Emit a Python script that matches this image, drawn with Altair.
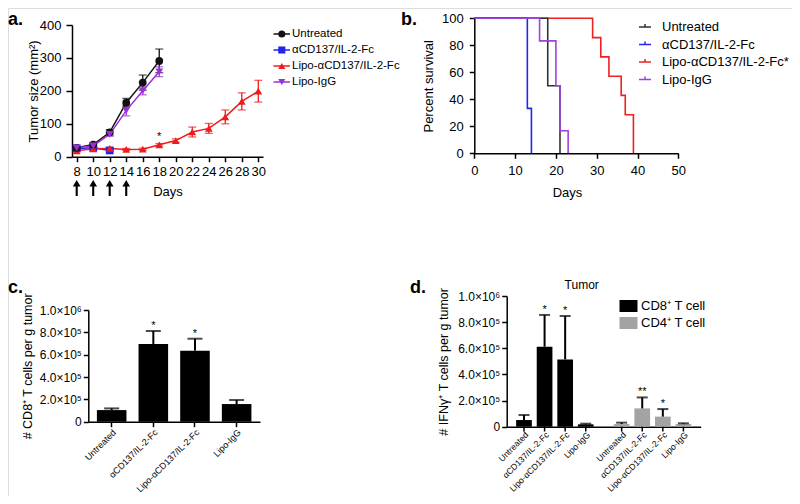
import altair as alt
import pandas as pd

FONT = "Liberation Sans"
W, H = 784, 488

# ---------------- panel a : tumour growth ----------------
days_a = [8, 10, 12, 14, 16, 18, 20, 22, 24, 26, 28, 30]
series_a = ["Untreated", "αCD137/IL-2-Fc", "Lipo-αCD137/IL-2-Fc", "Lipo-IgG"]
untreated_a = [27, 37, 74, 164, 225, 291]
untreated_err_a = [3, 5, 8, 13, 23, 36]
acd_a = [25, 27, 19]
acd_err_a = [3, 3, 3]
lipo_a = [18, 24, 25, 22, 23, 36, 49, 75, 86, 121, 168, 199]
lipo_err_a = [3, 3, 3, 3, 3, 4, 5, 15, 15, 21, 26, 33]
igg_a = [27, 33, 68, 140, 200, 258]
igg_err_a = [3, 5, 6, 16, 12, 15]
dose_days_a = [8, 10, 12, 14]
star_day_a = [18]
star_val_a = [60]
colors_a = ["#111111", "#2222EE", "#EE1C1C", "#9B30D8"]
shapes_a = ["circle", "square", "triangle-up", "triangle-down"]
arrow_path = "M-0.13,1L0.13,1L0.13,-0.2L0.48,-0.2L0,-1L-0.48,-0.2L-0.13,-0.2Z"

# ---------------- panel b : survival ----------------
series_b = ["Untreated", "αCD137/IL-2-Fc", "Lipo-αCD137/IL-2-Fc*", "Lipo-IgG"]
untreated_b_days = [0, 18, 21]
untreated_b_pct = [100, 50, 0]
acd_b_days = [0, 13, 14]
acd_b_pct = [100, 33.3, 0]
lipo_b_days = [0, 29, 31, 33, 36, 37, 39]
lipo_b_pct = [100, 85.7, 71.4, 57.1, 42.9, 28.6, 0]
igg_b_days = [0, 16, 20, 21, 23]
igg_b_pct = [100, 83.3, 50, 16.7, 0]
colors_b = ["#333333", "#2525F0", "#F02020", "#A040E0"]

# ---------------- panel c : CD8 T cells ----------------
treat = ["Untreated", "αCD137/IL-2-Fc", "Lipo-αCD137/IL-2-Fc", "Lipo-IgG"]
cd8_c = [1.04e5, 6.96e5, 6.36e5, 1.58e5]
cd8_err_c = [0.15e5, 1.16e5, 1.07e5, 0.36e5]
stars_c = ["", "*", "*", ""]

# ---------------- panel d : IFNγ+ T cells ----------------
cells_d = ["CD8⁺ T cell", "CD4⁺ T cell"]
cd8_d = [0.51e5, 6.12e5, 5.15e5, 0.18e5]
cd8_err_d = [0.38e5, 2.43e5, 3.32e5, 0.05e5]
cd4_d = [0.20e5, 1.40e5, 0.77e5, 0.20e5]
cd4_err_d = [0.11e5, 0.84e5, 0.58e5, 0.06e5]
stars_d8 = ["", "*", "*", ""]
stars_d4 = ["", "**", "*", ""]
colors_d = ["#000000", "#A3A3A3"]

sci_ticks = [0, 2e5, 4e5, 6e5, 8e5, 1e6]
sci_expr = ("datum.value == 0 ? '0' : (datum.value >= 999999 ? "
            "format(datum.value / 1000000, '.1f') + '×10⁶' : "
            "format(datum.value / 100000, '.1f') + '×10⁵')")


def ax(**kw):
    base = dict(grid=False, domainColor="black", tickColor="black", labelColor="black",
                titleColor="black", domainWidth=1.5, tickWidth=1.5, labelFont=FONT,
                titleFont=FONT, titleFontWeight="normal", labelFlush=False, labelOverlap=False)
    base.update(kw)
    return alt.Axis(**base)


# ======== panel a ========
rows_a = []
for name, vals, errs in [(series_a[1], acd_a, acd_err_a), (series_a[2], lipo_a, lipo_err_a),
                         (series_a[0], untreated_a, untreated_err_a), (series_a[3], igg_a, igg_err_a)]:
    for d, v, e in zip(days_a, vals, errs):
        rows_a.append({"series": name, "day": d, "v": v, "lo": v - e, "hi": v + e})
df_a = pd.DataFrame(rows_a)

xa = alt.Scale(domain=[7.43, 30.57], range=[64, 255], nice=False, zero=False)
ya = alt.Scale(domain=[0, 400], range=[148.7, 17], nice=False)
axis_xa = ax(orient="bottom", offset=148.7 - H, values=days_a, title="Days", tickSize=5,
             labelPadding=4, labelFontSize=13, titleFontSize=13, titlePadding=7)
axis_ya = ax(orient="left", offset=-64, values=[0, 100, 200, 300, 400], title="Tumor size (mm²)",
             tickSize=6, labelPadding=5, labelFontSize=13, titleFontSize=13, titlePadding=-1)
XA = alt.X("day:Q", scale=xa, axis=axis_xa)


def YA(f):
    return alt.Y(f + ":Q", scale=ya, axis=axis_ya)


col_scale_a = alt.Scale(domain=series_a, range=colors_a)
COLA = alt.Color("series:N", scale=col_scale_a, legend=None)

a_layers = [
    alt.Chart(df_a).mark_rule(strokeWidth=1.3).encode(x=XA, y=YA("lo"), y2="hi", color=COLA),
    alt.Chart(df_a).mark_tick(orient="horizontal", size=8, thickness=1.3).encode(x=XA, y=YA("hi"), color=COLA),
    alt.Chart(df_a).mark_tick(orient="horizontal", size=8, thickness=1.3).encode(x=XA, y=YA("lo"), color=COLA),
    alt.Chart(df_a).mark_line(strokeWidth=1.5).encode(x=XA, y=YA("v"), color=COLA),
]
for idx in [1, 2, 0, 3]:
    a_layers.append(
        alt.Chart(df_a).transform_filter(alt.datum.series == series_a[idx])
        .mark_point(shape=shapes_a[idx], filled=True, size=60, opacity=1)
        .encode(x=XA, y=YA("v"), color=COLA))
a_layers.append(
    alt.Chart(pd.DataFrame({"day": dose_days_a})).mark_point(shape=arrow_path, filled=True, size=256,
                                                            color="black", opacity=1)
    .encode(x=XA, y=alt.value(180)))
a_layers.append(
    alt.Chart(pd.DataFrame({"day": star_day_a, "v": star_val_a})).mark_text(
        text="*", fontSize=11, font=FONT, color="black").encode(x=XA, y=YA("v")))
panel_a = alt.layer(*a_layers)

# legend of panel a (line + marker entries)
df_leg_a = pd.DataFrame({"series": series_a})
YL = alt.Y("series:N", scale=alt.Scale(type="point", domain=series_a, range=[26, 74], padding=0), axis=None)
COLL = alt.Color("series:N", scale=alt.Scale(domain=series_a, range=colors_a), legend=None)
legend_a = alt.layer(
    alt.Chart(df_leg_a).mark_rule(strokeWidth=1.5).encode(
        x=alt.value(265.5), x2=alt.value(282), y=YL, color=COLL),
    alt.Chart(df_leg_a).mark_point(filled=True, size=50, opacity=1).encode(
        x=alt.value(273.8), y=YL, color=COLL,
        shape=alt.Shape("series:N", scale=alt.Scale(domain=series_a, range=shapes_a), legend=None)),
    alt.Chart(df_leg_a).mark_text(align="left", baseline="middle", fontSize=11.5, font=FONT,
                                  color="black").encode(x=alt.value(284), y=YL, text="series:N"),
)

# ======== panel b ========
rows_b = []
for name, ds, ps in [(series_b[2], lipo_b_days, lipo_b_pct), (series_b[1], acd_b_days, acd_b_pct),
                     (series_b[0], untreated_b_days, untreated_b_pct), (series_b[3], igg_b_days, igg_b_pct)]:
    for d, p in zip(ds, ps):
        rows_b.append({"series": name, "day": d, "pct": p})
df_b = pd.DataFrame(rows_b)

xb = alt.Scale(domain=[0, 50], range=[466.3, 670.3], nice=False)
yb = alt.Scale(domain=[0, 100], range=[145.3, 10.3], nice=False)
axis_xb = ax(orient="bottom", offset=145.3 - H, values=[0, 10, 20, 30, 40, 50], title="Days",
             tickSize=5, labelPadding=6, labelFontSize=13, titleFontSize=13, titlePadding=9,
             titleX=559)
axis_yb = ax(orient="left", offset=-466.3, values=[0, 20, 40, 60, 80, 100], title="Percent survival",
             tickSize=5, labelPadding=6, labelFontSize=13, titleFontSize=13, titlePadding=6.5)
leg_b = alt.Legend(orient="none", legendX=630, legendY=12, title=None, symbolType="M-1,0H1M0,0V-0.5",
                   symbolSize=144, symbolStrokeWidth=1.5, symbolFillColor="transparent",
                   labelFontSize=13, labelOffset=10, rowPadding=3.5, labelFont=FONT,
                   labelColor="black", padding=0)
panel_b = alt.Chart(df_b).mark_line(interpolate="step-after", strokeWidth=1.6).encode(
    x=alt.X("day:Q", scale=xb, axis=axis_xb),
    y=alt.Y("pct:Q", scale=yb, axis=axis_yb),
    color=alt.Color("series:N", scale=alt.Scale(domain=series_b, range=colors_b), legend=leg_b),
)

# ======== panel c ========
df_c = pd.DataFrame({"treat": treat, "v": cd8_c,
                     "hi": [v + e for v, e in zip(cd8_c, cd8_err_c)], "star": stars_c})
xc = alt.Scale(domain=treat, range=[80.3, 252], paddingInner=0.29, paddingOuter=0.206)
yc = alt.Scale(domain=[0, 1e6], range=[413.7, 302], nice=False)
axis_xc = ax(orient="bottom", offset=413.7 - H, title=None, labelAngle=315, labelFontSize=9,
             tickSize=5, labelPadding=1)
axis_yc = ax(orient="left", offset=-80.3, values=sci_ticks, labelExpr=sci_expr,
             title="# CD8⁺ T cells per g tumor", labelFontSize=12, titleFontSize=12.5,
             tickSize=5, labelPadding=2, titlePadding=5)
XC = alt.X("treat:N", scale=xc, axis=axis_xc)


def YC(f):
    return alt.Y(f + ":Q", scale=yc, axis=axis_yc)


panel_c = alt.layer(
    alt.Chart(df_c).mark_bar(color="black").encode(x=XC, y=YC("v")),
    alt.Chart(df_c).mark_rule(color="black", strokeWidth=2).encode(x=XC, y=YC("v"), y2="hi"),
    alt.Chart(df_c).mark_tick(orient="horizontal", size=15, thickness=2, color="black").encode(x=XC, y=YC("hi")),
    alt.Chart(df_c).transform_filter("datum.star != ''").mark_text(
        baseline="bottom", fontSize=11, font=FONT, color="black").encode(x=XC, y=YC("hi"), text="star:N"),
)

# ======== panel d ========
rows_d = []
for cell, vals, errs, stars in [(cells_d[0], cd8_d, cd8_err_d, stars_d8), (cells_d[1], cd4_d, cd4_err_d, stars_d4)]:
    for t, v, e, s in zip(treat, vals, errs, stars):
        rows_d.append({"cell": cell, "treat": t, "v": v, "hi": v + e, "star": s})
df_d = pd.DataFrame(rows_d)

xd = alt.Scale(domain=cells_d, range=[498.7, 692.7], paddingInner=0.207, paddingOuter=0.0967)
xod = alt.Scale(domain=treat, paddingInner=0.238, paddingOuter=0)
yd = alt.Scale(domain=[0, 1e6], range=[418.7, 288], nice=False)
axis_xd = ax(orient="bottom", offset=418.7 - H, title=None, labels=False, ticks=False)
axis_yd = ax(orient="left", offset=-498.7, values=sci_ticks, labelExpr=sci_expr,
             title="# IFNγ⁺ T cells per g tumor", labelFontSize=12, titleFontSize=12.5,
             tickSize=5, labelPadding=2, titlePadding=7)
XD = alt.X("cell:N", scale=xd, axis=axis_xd)
XOD = alt.XOffset("treat:N", scale=xod)


def YD(f):
    return alt.Y(f + ":Q", scale=yd, axis=axis_yd)


leg_d = alt.Legend(orient="none", legendX=614, legendY=291.5, title=None,
                   symbolType="M-1.5,-1H1.5V1H-1.5Z", symbolSize=144, symbolStrokeWidth=0,
                   labelFontSize=13, labelOffset=6, rowPadding=3, labelFont=FONT,
                   labelColor="black", padding=0)
panel_d = alt.layer(
    alt.Chart(df_d).mark_bar().encode(
        x=XD, xOffset=XOD, y=YD("v"),
        color=alt.Color("cell:N", scale=alt.Scale(domain=cells_d, range=colors_d), legend=leg_d)),
    alt.Chart(df_d).mark_rule(color="black", strokeWidth=2).encode(x=XD, xOffset=XOD, y=YD("v"), y2="hi"),
    alt.Chart(df_d).mark_tick(orient="horizontal", size=11, thickness=2, color="black").encode(
        x=XD, xOffset=XOD, y=YD("hi")),
    alt.Chart(df_d).mark_rule(color="black", strokeWidth=1.5).encode(
        x=XD, xOffset=XOD, y=alt.value(418.7), y2=alt.value(423.5)),
    alt.Chart(df_d).mark_text(angle=315, align="right", baseline="top", fontSize=8.6, font=FONT,
                              color="black").encode(x=XD, xOffset=XOD, y=alt.value(422.5), text="treat:N"),
    alt.Chart(df_d).transform_filter("datum.star != ''").mark_text(
        baseline="bottom", fontSize=11, font=FONT, color="black").encode(
        x=XD, xOffset=XOD, y=YD("hi"), text="star:N"),
)

# ======== annotations ========
def label(txt, x, y, size=18, weight="bold", font=FONT, align="left", baseline="alphabetic"):
    return alt.Chart(pd.DataFrame({"k": [0]})).mark_text(
        text=txt, fontSize=size, fontWeight=weight, font=font, align=align,
        baseline=baseline, color="black").encode(x=alt.value(x), y=alt.value(y))


annots = [
    label("a.", 0, 16.5),
    label("b.", 393, 16.5),
    label("c.", 0, 285),
    label("d.", 402, 285),
    label("Tumor", 573.7, 277, size=12, weight="normal", font=FONT, align="center", baseline="middle"),
]

chart = alt.layer(panel_a, legend_a, panel_b, panel_c, panel_d, *annots).resolve_scale(
    x="independent", y="independent", color="independent", shape="independent",
    xOffset="independent",
).resolve_axis(x="independent", y="independent").resolve_legend(
    color="independent", shape="independent",
).properties(
    width=W, height=H, padding=0, autosize=alt.AutoSizeParams(type="none"),
).configure_view(stroke=None).configure(font=FONT, background="white")

chart.save("out.html", embed_options={"renderer": "svg", "actions": False})
